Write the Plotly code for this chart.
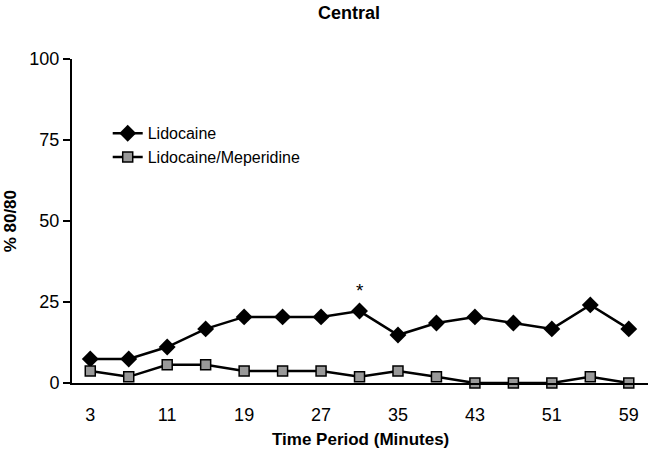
import plotly.graph_objects as go

time_min = [3, 7, 11, 15, 19, 23, 27, 31, 35, 39, 43, 47, 51, 55, 59]
lidocaine = [7.4, 7.4, 11.1, 16.7, 20.4, 20.4, 20.4, 22.2, 14.8, 18.5, 20.4, 18.5, 16.7, 24.1, 16.7]
lido_meperidine = [3.7, 1.9, 5.6, 5.6, 3.7, 3.7, 3.7, 1.9, 3.7, 1.9, 0, 0, 0, 1.9, 0]
x_ticks = [3, 11, 19, 27, 35, 43, 51, 59]
y_ticks = [0, 25, 50, 75, 100]
sig_x = 31
sig_y = 28.7

FONT = "Liberation Sans, Arial, sans-serif"

fig = go.Figure()
fig.add_trace(go.Scatter(
    x=time_min, y=lidocaine, name="Lidocaine", mode="lines+markers",
    line=dict(color="black", width=2.5),
    marker=dict(symbol="diamond", size=13, color="black"),
    cliponaxis=False,
))
fig.add_trace(go.Scatter(
    x=time_min, y=lido_meperidine, name="Lidocaine/Meperidine", mode="lines+markers",
    line=dict(color="black", width=2.5),
    marker=dict(symbol="square", size=10, color="#999999", line=dict(color="black", width=1.5)),
    cliponaxis=False,
))

fig.add_annotation(x=sig_x, y=sig_y, text="*", showarrow=False,
                   font=dict(family=FONT, size=19, color="black"))

# axis titles as annotations (fixed positions)
fig.add_annotation(xref="paper", yref="paper", x=0.5, y=-0.175, yanchor="middle",
                   text="<b>Time Period (Minutes)</b>", showarrow=False,
                   font=dict(family=FONT, size=17, color="black"))
fig.add_annotation(xref="paper", yref="paper", x=-0.107, y=0.5, xanchor="center",
                   text="<b>% 80/80</b>", textangle=-90, showarrow=False,
                   font=dict(family=FONT, size=17, color="black"))

fig.update_layout(
    width=650, height=453,
    paper_bgcolor="white", plot_bgcolor="white",
    margin=dict(l=72, r=2, t=59, b=70, autoexpand=False),
    font=dict(family=FONT, size=16, color="black"),
    title=dict(text="<b>Central</b>", x=0.537, xanchor="center", y=0.972, yanchor="middle",
               font=dict(family=FONT, size=18, color="black")),
    showlegend=True,
    legend=dict(x=0.062, y=0.823, xanchor="left", yanchor="top",
                bgcolor="rgba(0,0,0,0)", font=dict(family=FONT, size=16),
                itemwidth=30),
    xaxis=dict(
        range=[1.1, 61], tickvals=x_ticks, ticktext=[str(v) for v in x_ticks],
        showgrid=False, zeroline=False, showline=True, linecolor="black", linewidth=2,
        ticks="outside", ticklen=14, tickcolor="rgba(0,0,0,0)",
        tickfont=dict(family=FONT, size=18), automargin=False,
    ),
    yaxis=dict(
        range=[0, 100], tickvals=y_ticks,
        showgrid=False, zeroline=False, showline=True, linecolor="black", linewidth=2,
        ticks="outside", ticklen=7, tickwidth=2, tickcolor="black",
        tickfont=dict(family=FONT, size=18), automargin=False,
    ),
)

fig.write_html("out.html", config={"displayModeBar": False},
               post_script="document.body.style.margin='0';")
